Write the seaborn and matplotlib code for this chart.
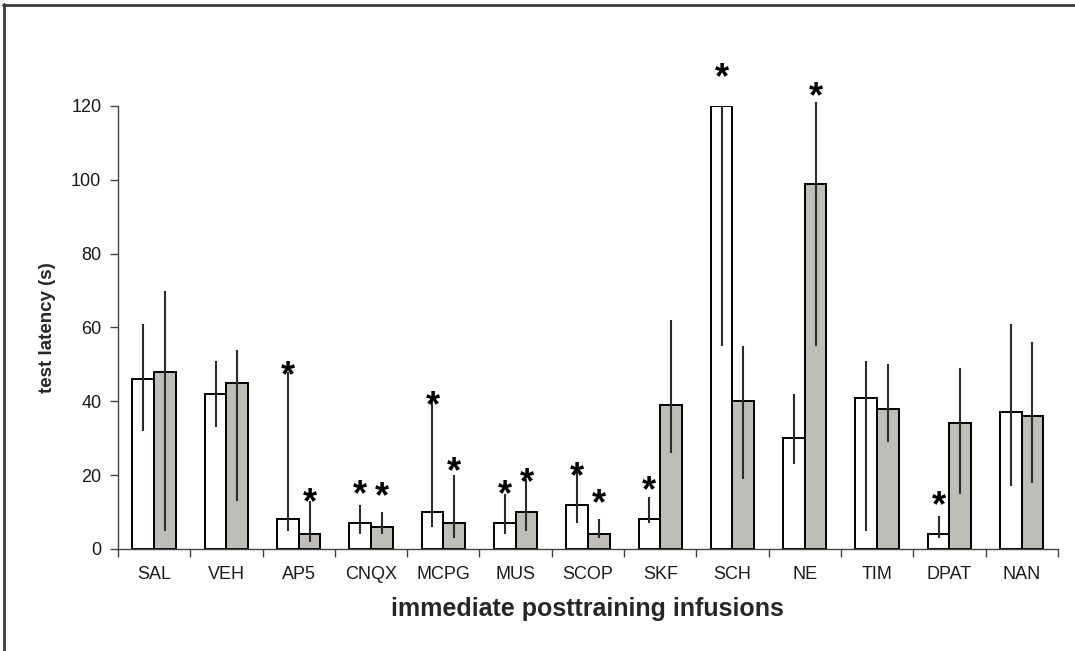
import numpy as np
import pandas as pd
import matplotlib
matplotlib.use("Agg")
import matplotlib.pyplot as plt
from matplotlib.lines import Line2D
import seaborn as sns

categories = ["SAL", "VEH", "AP5", "CNQX", "MCPG", "MUS", "SCOP", "SKF",
              "SCH", "NE", "TIM", "DPAT", "NAN"]
white_vals = [46, 42, 8, 7, 10, 7, 12, 8, 120, 30, 41, 4, 37]
white_lo = [32, 33, 5, 4, 6, 4, 7, 7, 55, 23, 5, 3, 17]
white_hi = [61, 51, 48, 12, 41, 15, 23, 14, 120, 42, 51, 9, 61]
gray_vals = [48, 45, 4, 6, 7, 10, 4, 39, 40, 99, 38, 34, 36]
gray_lo = [5, 13, 2, 4, 3, 5, 3, 26, 19, 55, 29, 15, 18]
gray_hi = [70, 54, 13, 10, 20, 19, 8, 62, 55, 121, 50, 49, 56]
# asterisk centre positions (data units) ; None = no asterisk
white_star = [None, None, 48.8, 16.6, 40.8, 16.6, 21.6, 17.8, 129.6, None, None, 13.7, None]
gray_star = [None, None, 14.4, 16.2, 22.8, 20.0, 14.3, None, None, 124.4, None, None, None]
groups = ["A", "B"]

sns.set_theme(style="white")
plt.rcParams["font.family"] = ["Liberation Sans", "DejaVu Sans"]

df = pd.DataFrame({
    "cat": categories * 2,
    "grp": [groups[0]] * len(categories) + [groups[1]] * len(categories),
    "val": white_vals + gray_vals,
})

fig = plt.figure(figsize=(10.75, 6.51), dpi=100)
ax = fig.add_axes([0.1098, 0.1567, 0.8742, 0.6805])

sns.barplot(data=df, x="cat", y="val", hue="grp", order=categories,
            hue_order=groups, palette={"A": "white", "B": "#C0BDB7"},
            width=0.6, errorbar=None, edgecolor="black", linewidth=1.4,
            legend=False, ax=ax)

patches = [p for p in ax.patches][: 2 * len(categories)]
white_p = patches[:len(categories)]
gray_p = patches[len(categories):]

STAR_SHIFT = -2.2  # asterisk glyph sits high in its line box

def draw(ps, lo, hi, stars):
    for p, l, h, s in zip(ps, lo, hi, stars):
        xc = p.get_x() + p.get_width() / 2
        ax.vlines(xc, l, h, color="#2b2b2b", linewidth=1.5, clip_on=False, zorder=5)
        if s is not None:
            ax.text(xc, s + STAR_SHIFT, "*", ha="center", va="center", fontsize=26,
                    fontweight="bold", color="black", clip_on=False, zorder=6,
                    fontfamily=["Liberation Sans", "DejaVu Sans"])

draw(white_p, white_lo, white_hi, white_star)
draw(gray_p, gray_lo, gray_hi, gray_star)

ax.set_ylim(0, 120)
ax.set_xlim(-0.5, len(categories) - 0.5)
ax.set_yticks(np.arange(0, 121, 20))
ax.set_xticks(np.arange(len(categories)))
ax.set_xticklabels(categories)
ax.set_xticks(np.arange(-0.5, len(categories), 1.0), minor=True)
ax.tick_params(axis="x", which="major", length=0, pad=12, labelsize=13, colors="#1a1a1a")
ax.tick_params(axis="x", which="minor", length=6, width=1, color="#444444", direction="out", bottom=True)
ax.tick_params(axis="y", which="major", length=6, width=1, color="#444444", direction="out",
               left=True, labelsize=13, labelcolor="#1a1a1a", pad=6)

for side in ["top", "right"]:
    ax.spines[side].set_visible(False)
for side in ["left", "bottom"]:
    ax.spines[side].set_color("#444444")
    ax.spines[side].set_linewidth(1.0)

ax.set_ylabel("test latency (s)", fontsize=13.5, fontweight="bold", labelpad=11)
ax.set_xlabel("immediate posttraining infusions", fontsize=18, fontweight="bold", labelpad=10)

# outer frame lines (left and top)
fig.add_artist(Line2D([0.004, 0.004], [0.0, 0.994], transform=fig.transFigure,
                      color="#3c3c3c", linewidth=2))
fig.add_artist(Line2D([0.003, 1.0], [0.993, 0.993], transform=fig.transFigure,
                      color="#3c3c3c", linewidth=2))

fig.savefig("out.png", dpi=100, facecolor="white")
